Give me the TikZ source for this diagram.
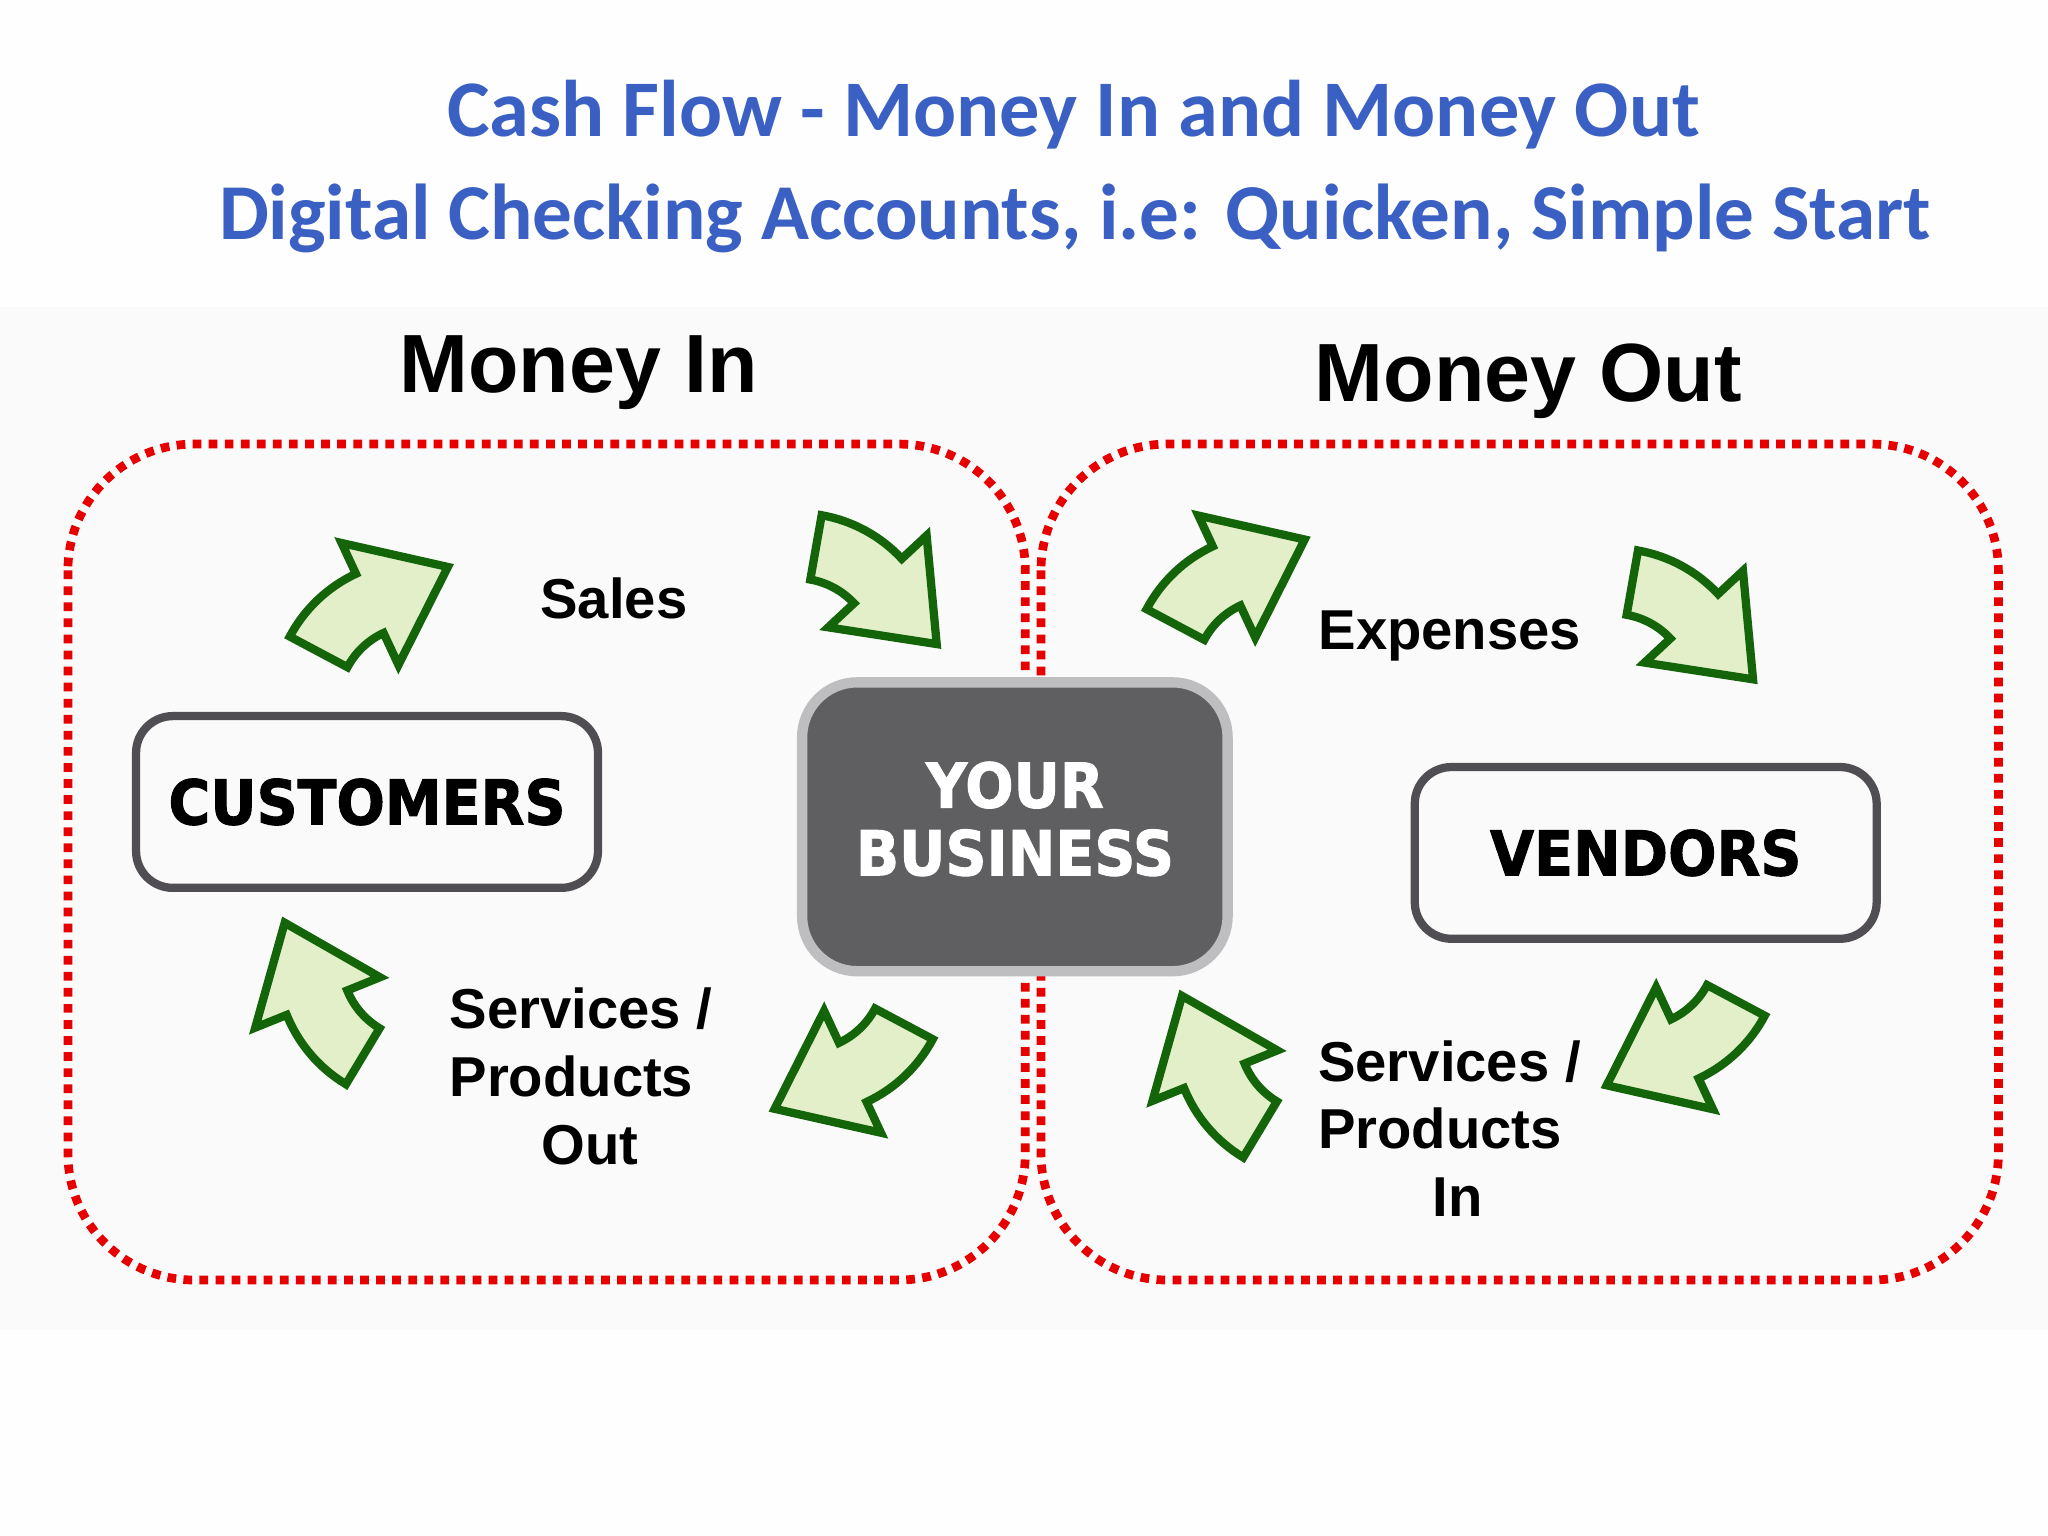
\documentclass[tikz,border=0pt]{standalone}
\usepackage{fontspec}
\setmainfont{Liberation Sans}
\newfontfamily\titlefont{Carlito}
\newfontfamily\boxfont[FakeStretch=0.92,FakeBold=1.5]{DejaVu Sans}
\usetikzlibrary{calc}
\definecolor{ttl}{RGB}{59,96,196}
\definecolor{arrfill}{RGB}{226,239,200}
\definecolor{arrline}{RGB}{20,100,10}
\definecolor{boxline}{RGB}{80,78,82}
\definecolor{bizfill}{RGB}{95,94,97}
\definecolor{bizline}{RGB}{190,190,192}
\definecolor{dotred}{RGB}{230,0,0}
\tikzset{
  region/.style={draw=dotred, line width=3.8pt, dash pattern=on 3.8pt off 3.2pt, rounded corners=55pt},
  whitebox/.style={draw=boxline, line width=3.6pt, fill=white!96!gray, rounded corners=16pt, minimum width=355*0.567pt, minimum height=132*0.567pt, font=\boxfont\bfseries\fontsize{27}{30}\selectfont},
  lbl/.style={font=\bfseries\fontsize{24.5}{29.5}\selectfont, align=left},
  cvarrow/.pic={
    \begin{scope}[shift={(-50,-72)}]
    \filldraw[fill=arrfill, draw=arrline, line width=3.6pt, line join=miter]
      ($(100,0)+(152:110)$) arc[start angle=152,end angle=115,radius=110]
      -- ($(100,0)+(115:136)$)
      -- ($(100,0)+(115:85)+(25:66)$)
      -- ($(100,0)+(115:33)$)
      -- ($(100,0)+(115:60)$) arc[start angle=115,end angle=152,radius=60] -- cycle;
    \end{scope}}
}
\begin{document}
\begin{tikzpicture}[x=0.02cm,y=0.02cm]
\useasboundingbox (0,0) rectangle (1568,-1176);
\fill[white!99!gray] (0,0) rectangle (1568,-1176);
\fill[white!96!gray] (0,-235) rectangle (1568,-1018);
\node[text=ttl, font=\titlefont\bfseries\fontsize{35}{40}\selectfont] (t1) at (822,-88) {Cash Flow - Money In and Money Out};
\node[text=ttl, font=\titlefont\bfseries\fontsize{34.5}{40}\selectfont] (t2) at (823,-167) {Digital Checking Accounts, i.e: Quicken, Simple Start};
\node[font=\bfseries\fontsize{36}{40}\selectfont] (mi) at (443,-285) {Money In};
\node[font=\bfseries\fontsize{36}{40}\selectfont] (mo) at (1170,-292) {Money Out};
\draw[region] (52,-340) rectangle (785,-980);
\draw[region] (797,-340) rectangle (1530,-980);
\node[whitebox] (cust) at (281,-614) {CUSTOMERS};
\node[whitebox] (vend) at (1260,-653) {VENDORS};
\node[draw=bizline, fill=bizfill, line width=4.5pt, rounded corners=24pt, minimum width=327*0.567pt, minimum height=222*0.567pt] (biz) at (777,-633) {};
\node[text=white, align=center, font=\boxfont\bfseries\fontsize{27}{29.5}\selectfont] (biztext) at (777,-627) {YOUR\\BUSINESS};
\node[lbl] (sales) at (470,-458) {Sales};
\node[lbl] (exp) at (1110,-487) {Expenses};
\node[lbl, anchor=west] (spo) at (338,-824) {Services /\\Products\\\hspace*{40pt}Out};
\node[lbl, anchor=west] (spi) at (1003,-864) {Services /\\Products\\\hspace*{50pt}In};
\pic[rotate=0] at (269,-467) {cvarrow};
\pic[rotate=-72] at (663,-433) {cvarrow};
\pic[rotate=0] at (925,-446) {cvarrow};
\pic[rotate=-72] at (1288,-460) {cvarrow};
\pic[rotate=87] at (247,-782) {cvarrow};
\pic[rotate=180] at (667,-816) {cvarrow};
\pic[rotate=87] at (934,-838) {cvarrow};
\pic[rotate=180] at (1304,-798) {cvarrow};
\end{tikzpicture}
\end{document}
